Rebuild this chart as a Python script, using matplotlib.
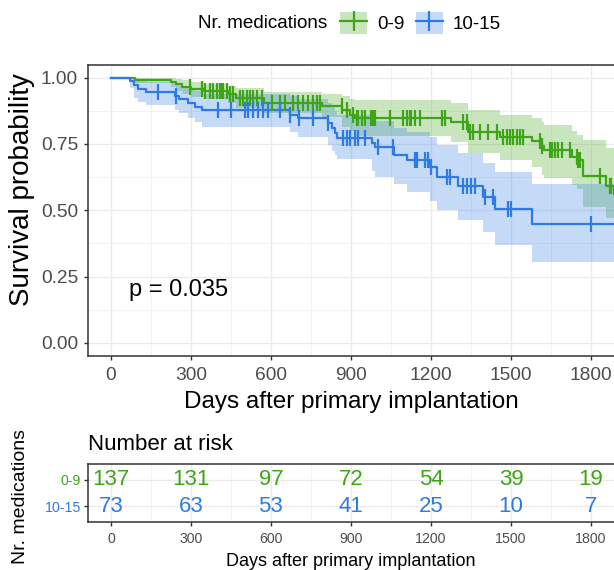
import numpy as np
import matplotlib
matplotlib.use("Agg")
import matplotlib.pyplot as plt
from matplotlib.patches import Patch
from matplotlib.lines import Line2D
from matplotlib.legend_handler import HandlerTuple

plt.rcParams["font.family"] = ["Liberation Sans", "DejaVu Sans"]

# Kaplan-Meier steps, group 0-9
g_time = [0, 90, 225, 245, 265, 300, 350, 440, 470, 575, 790, 866, 896, 915, 1275, 1340,
          1460, 1580, 1615, 1625, 1730, 1748, 1772, 1855, 1885]
g_surv = [1.0, 0.993, 0.985, 0.975, 0.966, 0.957, 0.949, 0.937, 0.922, 0.905, 0.895, 0.878,
          0.860, 0.847, 0.834, 0.796, 0.775, 0.762, 0.742, 0.727, 0.702, 0.689, 0.629, 0.591, 0.560]
g_upper = [1.0, 1.0, 0.998, 0.995, 0.99, 0.985, 0.978, 0.970, 0.960, 0.948, 0.940, 0.930,
           0.918, 0.915, 0.905, 0.878, 0.859, 0.848, 0.834, 0.822, 0.800, 0.784, 0.765, 0.735, 0.710]
g_lower = [1.0, 0.979, 0.965, 0.950, 0.940, 0.928, 0.918, 0.905, 0.885, 0.866, 0.852, 0.815,
           0.800, 0.780, 0.758, 0.715, 0.689, 0.665, 0.633, 0.620, 0.595, 0.580, 0.513, 0.470, 0.440]
g_censor = [296, 340, 352, 371, 384, 396, 409, 415, 421, 434, 446, 459, 484, 496, 509, 521, 534,
            546, 565, 603, 634, 653, 684, 702, 721, 740, 759, 771, 784, 865, 884, 909, 921, 927,
            940, 952, 977, 984, 990, 1046, 1096, 1109, 1121, 1127, 1140, 1159, 1240, 1252, 1321,
            1334, 1345, 1359, 1384, 1415, 1446, 1471, 1484, 1496, 1509, 1521, 1534, 1546, 1609,
            1618, 1646, 1653, 1665, 1677, 1690, 1721, 1746, 1752, 1759, 1834, 1871, 1877]

# group 10-15
b_time = [0, 71, 85, 100, 130, 240, 255, 290, 315, 340, 671, 701, 814, 829, 840, 847, 980, 990,
          1060, 1110, 1196, 1221, 1302, 1396, 1440, 1578]
b_surv = [1.0, 0.986, 0.973, 0.959, 0.945, 0.932, 0.918, 0.904, 0.890, 0.877, 0.860, 0.847,
          0.828, 0.809, 0.790, 0.771, 0.755, 0.737, 0.708, 0.689, 0.664, 0.626, 0.591, 0.551,
          0.505, 0.450]
b_upper = [1.0, 1.0, 0.998, 0.99, 0.985, 0.977, 0.968, 0.958, 0.95, 0.94, 0.93, 0.92, 0.905,
           0.89, 0.875, 0.86, 0.848, 0.835, 0.81, 0.795, 0.775, 0.745, 0.715, 0.68, 0.645, 0.60]
b_lower = [1.0, 0.96, 0.922, 0.91, 0.897, 0.88, 0.866, 0.85, 0.834, 0.815, 0.796, 0.775, 0.746,
           0.725, 0.71, 0.695, 0.65, 0.625, 0.60, 0.57, 0.535, 0.50, 0.463, 0.419, 0.369, 0.306]
b_censor = [177, 245, 402, 452, 502, 515, 534, 552, 571, 590, 634, 671, 705, 759, 815, 871, 884,
            896, 915, 927, 952, 1002, 1059, 1140, 1146, 1177, 1190, 1202, 1259, 1271, 1321, 1334,
            1352, 1365, 1402, 1434, 1490, 1502, 1802]
follow_end = 1900

# number at risk table
risk_times = [0, 300, 600, 900, 1200, 1500, 1800]
risk_g = [137, 131, 97, 72, 54, 39, 19]
risk_b = [73, 63, 53, 41, 25, 10, 7]

groups = ["0-9", "10-15"]
green = "#3DA516"
blue = "#2E7BE4"
p_text = "p = 0.035"

W, H = 614, 570
fig = plt.figure(figsize=(W / 100, H / 100), dpi=100)
fig.patch.set_facecolor("white")

def box(l, r, t, b):
    return [l / W, 1 - b / H, (r - l) / W, (b - t) / H]

xlim = (-86, follow_end)
right_px = 88 + (xlim[1] - xlim[0]) * 0.26667
ax = fig.add_axes(box(88, right_px, 64.5, 356))

def km(ax, t, s, lo, up, cens, col):
    t = list(t) + [follow_end]
    s = list(s) + [s[-1]]
    lo = list(lo) + [lo[-1]]
    up = list(up) + [up[-1]]
    ax.fill_between(t, lo, up, step="post", color=col, alpha=0.28, lw=0, zorder=2)
    ax.step(t, s, where="post", color=col, lw=1.6, zorder=3)
    idx = np.searchsorted(t, cens, side="right") - 1
    ax.plot(cens, np.array(s)[idx], ls="none", marker="|", ms=11.5, mew=1.6, color=col, zorder=4)

km(ax, g_time, g_surv, g_lower, g_upper, g_censor, green)
km(ax, b_time, b_surv, b_lower, b_upper, b_censor, blue)

ax.set_xticks(risk_times)
ax.set_xticks(np.arange(150, 1900, 300), minor=True)
ax.set_yticks([0, 0.25, 0.5, 0.75, 1.0])
ax.set_yticks([0.125, 0.375, 0.625, 0.875], minor=True)
ax.set_yticklabels(["0.00", "0.25", "0.50", "0.75", "1.00"])
ax.set_xlim(xlim)
ax.set_ylim(-0.05, 1.05)
ax.grid(which="major", color="#EBEBEB", lw=1.0, zorder=0)
ax.grid(which="minor", color="#F2F2F2", lw=0.7, zorder=0)
ax.set_axisbelow(True)
for sp in ax.spines.values():
    sp.set_color("#333333")
    sp.set_linewidth(1.1)
ax.tick_params(which="major", length=3.2, width=1.0, color="#333333", labelsize=13.8,
               labelcolor="#4D4D4D", pad=4)
ax.tick_params(axis="x", pad=5)
ax.tick_params(which="minor", length=0)
ax.text(68, 0.2, p_text, fontsize=17, ha="left", va="center")

fig.text(351 / W, 1 - 408 / H, "Days after primary implantation", fontsize=17.5, ha="center",
         va="baseline")
fig.text(22 / W, 1 - 190 / H, "Survival probability", fontsize=20, ha="center", va="center",
         rotation=90)

# legend
fig.text(327 / W, 1 - 23 / H, "Nr. medications", fontsize=13.6, ha="right", va="center")
handles = [(Patch(facecolor=c, alpha=0.28, edgecolor="none"),
            Line2D([], [], color=c, lw=1.6, marker="|", ms=15, mew=1.6)) for c in (green, blue)]
fig.legend(handles, groups, handler_map={tuple: HandlerTuple(ndivide=1)}, loc="center left",
           bbox_to_anchor=(340 / W, 1 - 23 / H), ncol=2, frameon=False, fontsize=13.6,
           handlelength=1.45, handleheight=1.45, handletextpad=0.5, columnspacing=0.6,
           borderpad=0, borderaxespad=0)

# risk table
rax = fig.add_axes(box(88, right_px, 464, 522))
for t, ng, nb in zip(risk_times, risk_g, risk_b):
    rax.text(t, 2, str(ng), color=green, fontsize=16, ha="center", va="center")
    rax.text(t, 1, str(nb), color=blue, fontsize=16, ha="center", va="center")
rax.set_xticks(risk_times)
rax.set_xticks(np.arange(150, 1900, 300), minor=True)
rax.set_yticks([1, 2])
rax.set_yticklabels([groups[1], groups[0]])
rax.set_xlim(xlim)
rax.set_ylim(0.4, 2.6)
rax.grid(which="major", color="#EBEBEB", lw=1.0)
rax.grid(which="minor", axis="x", color="#F2F2F2", lw=0.7)
rax.set_axisbelow(True)
for sp in rax.spines.values():
    sp.set_color("#333333")
    sp.set_linewidth(1.1)
rax.tick_params(which="major", length=3.2, width=1.0, color="#333333", labelsize=10.2,
                labelcolor="#4D4D4D", pad=4)
rax.tick_params(axis="y", pad=2)
rax.tick_params(which="minor", length=0)
for lab, c in zip(rax.get_yticklabels(), (blue, green)):
    lab.set_color(c)

fig.text(88 / W, 1 - 450 / H, "Number at risk", fontsize=16, ha="left", va="baseline")
fig.text(21 / W, 1 - 497 / H, "Nr. medications", fontsize=14, ha="center", va="center",
         rotation=90)
fig.text(351 / W, 1 - 566 / H, "Days after primary implantation", fontsize=13, ha="center",
         va="baseline")

fig.savefig("out.png", dpi=100)
